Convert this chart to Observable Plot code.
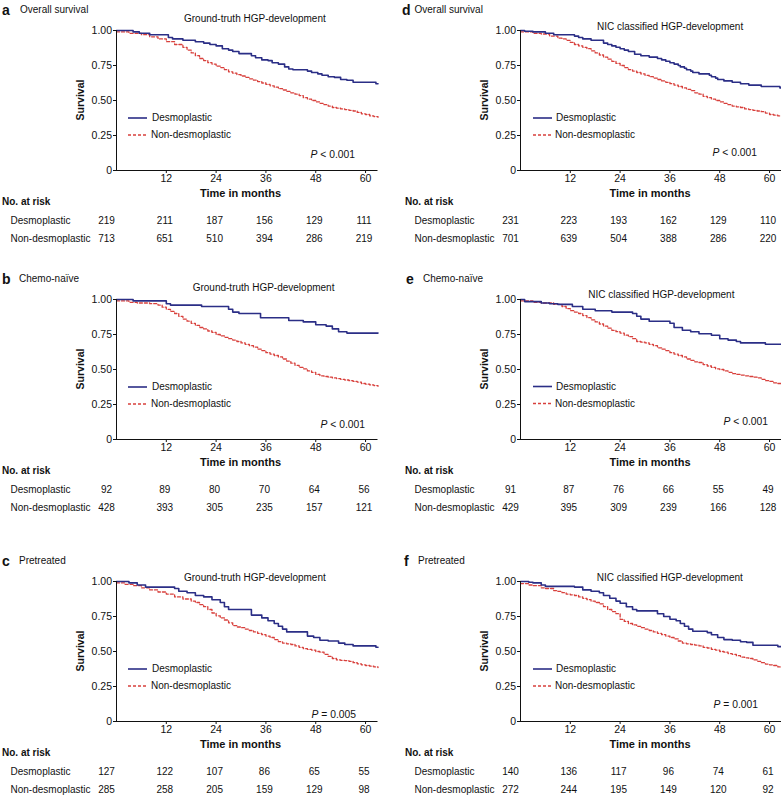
<!DOCTYPE html>
<html><head><meta charset="utf-8">
<script src="https://cdn.jsdelivr.net/npm/d3@7"></script>
<script src="https://cdn.jsdelivr.net/npm/@observablehq/plot@0.6"></script>
<style>
body{margin:0;background:#fff;}
#root{position:relative;width:781px;height:798px;overflow:hidden;font-family:"Liberation Sans",Arial,sans-serif;color:#111;background:#fff;}
.abs{position:absolute;white-space:nowrap;line-height:1;}
#root svg{position:absolute;}
</style></head><body><div id="root"></div>
<script>
// ---------- DATA ----------
const riskTimes = [0, 12, 24, 36, 48, 60];
const xTicks = [12, 24, 36, 48, 60];
const yTicks = [0, 0.25, 0.5, 0.75, 1];
const groups = ["Desmoplastic", "Non-desmoplastic"];

const panelLetters = ["a", "b", "c", "d", "e", "f"];
const panelSubtitles = ["Overall survival", "Chemo-naïve", "Pretreated", "Overall survival", "Chemo-naïve", "Pretreated"];
const panelTitles = ["Ground-truth HGP-development", "Ground-truth HGP-development", "Ground-truth HGP-development",
  "NIC classified HGP-development", "NIC classified HGP-development", "NIC classified HGP-development"];
const pValues = ["< 0.001", "< 0.001", "= 0.005", "< 0.001", "< 0.001", "= 0.001"];

// survival curves: [month, survival]
const aDesmo = [[0,1],[4,0.99],[5.5,0.98],[8,0.97],[12.5,0.95],[13.5,0.94],[16,0.93],[19,0.92],[21,0.91],[22.5,0.90],[24,0.89],[25.5,0.87],[27,0.86],[28,0.85],[29.5,0.835],[32.5,0.82],[33.5,0.805],[35,0.79],[36.5,0.785],[37.5,0.77],[39,0.76],[40.5,0.74],[41.5,0.725],[42.5,0.72],[46,0.71],[47,0.70],[48.5,0.69],[49.5,0.68],[51,0.67],[52.5,0.665],[54,0.65],[55.5,0.645],[57,0.63],[62.5,0.62],[63,0.62]];
const aNon = [[0,0.99],[3,0.98],[6,0.97],[8,0.955],[10,0.94],[12,0.92],[14,0.90],[16,0.88],[17,0.86],[18,0.84],[19,0.82],[20,0.80],[21,0.785],[22,0.77],[23,0.76],[24,0.745],[25,0.735],[26,0.72],[27,0.705],[28,0.695],[29,0.685],[30,0.675],[31,0.665],[32,0.655],[33,0.645],[34,0.635],[35,0.625],[36,0.615],[37,0.605],[38,0.595],[39,0.585],[40,0.575],[41,0.565],[42,0.555],[43,0.545],[44,0.535],[45,0.52],[46,0.51],[47,0.50],[48,0.49],[49,0.48],[50,0.47],[51,0.46],[52,0.45],[53,0.445],[54,0.44],[55,0.435],[56,0.43],[57,0.425],[58,0.415],[59,0.405],[60,0.40],[61,0.39],[62,0.385],[63,0.38]];
const bDesmo = [[0,1],[4,0.99],[12,0.97],[13,0.96],[20.5,0.95],[27,0.93],[28,0.91],[29.5,0.90],[34.7,0.87],[41.5,0.85],[45,0.84],[48,0.82],[50.5,0.81],[52,0.79],[53.5,0.77],[55.5,0.76],[63,0.76]];
const bNon = [[0,0.99],[3,0.98],[5,0.975],[8,0.97],[10,0.96],[11,0.945],[12,0.93],[13,0.915],[14,0.90],[15,0.88],[16,0.86],[17,0.845],[18,0.83],[19,0.815],[20,0.80],[21,0.79],[22,0.775],[23,0.765],[24,0.75],[25,0.74],[26,0.73],[27,0.72],[28,0.71],[29,0.70],[30,0.69],[31,0.68],[32,0.67],[33,0.66],[34,0.645],[35,0.635],[36,0.62],[37,0.61],[38,0.60],[39,0.59],[40,0.575],[41,0.56],[42,0.545],[43,0.53],[44,0.515],[45,0.505],[46,0.49],[47,0.48],[48,0.465],[49,0.455],[50,0.45],[51,0.445],[52,0.44],[53,0.435],[54,0.43],[55,0.425],[56,0.42],[57,0.415],[58,0.41],[59,0.40],[60,0.395],[61,0.39],[62,0.385],[63,0.38]];
const cDesmo = [[0,1],[3,0.99],[5,0.975],[7,0.96],[14,0.95],[15,0.93],[17,0.92],[19,0.90],[21,0.89],[23,0.87],[25,0.85],[26,0.82],[27,0.80],[32.5,0.76],[35,0.74],[36.5,0.72],[38,0.70],[39,0.68],[40,0.66],[41,0.64],[46,0.61],[47.5,0.60],[49,0.58],[51,0.575],[53.5,0.56],[55,0.55],[57,0.54],[62.5,0.53],[63,0.53]];
const cNon = [[0,0.99],[2,0.98],[4,0.97],[6,0.955],[8,0.94],[10,0.925],[12,0.91],[14,0.89],[16,0.875],[18,0.86],[19,0.85],[20,0.835],[21,0.82],[22,0.80],[23,0.775],[24,0.755],[25,0.74],[26,0.725],[27,0.705],[28,0.685],[29,0.675],[30,0.67],[31,0.66],[32,0.65],[33,0.64],[34,0.63],[35,0.62],[36,0.61],[37,0.60],[38,0.585],[39,0.57],[40,0.56],[41,0.555],[42,0.55],[43,0.54],[44,0.53],[45,0.52],[46,0.515],[47,0.51],[48,0.50],[49,0.495],[50,0.48],[51,0.465],[52,0.45],[53,0.44],[54,0.437],[55,0.435],[56,0.43],[57,0.42],[58,0.412],[59,0.405],[60,0.40],[61,0.395],[62,0.39],[63,0.385]];
const dDesmo = [[0,1],[1,0.995],[3,0.99],[6,0.98],[8,0.97],[13,0.96],[14,0.95],[15,0.94],[17,0.93],[20,0.91],[21,0.90],[22,0.89],[23,0.88],[24,0.87],[25,0.86],[26,0.85],[27.5,0.83],[29,0.82],[31,0.81],[33,0.80],[34,0.79],[35,0.78],[36,0.77],[37,0.76],[38,0.75],[38.5,0.74],[39.5,0.73],[40,0.72],[41,0.71],[41.5,0.70],[43,0.69],[45.5,0.68],[46,0.67],[47,0.66],[47.5,0.65],[49,0.64],[51,0.63],[53,0.62],[55,0.61],[58,0.60],[62.5,0.59],[63,0.59]];
const dNon = [[0,0.99],[3,0.98],[5,0.975],[7,0.96],[9,0.945],[10,0.94],[11,0.93],[12,0.915],[13,0.90],[14,0.89],[15,0.88],[16,0.87],[17,0.855],[18,0.84],[19,0.825],[20,0.81],[21,0.795],[22,0.78],[23,0.765],[24,0.75],[25,0.735],[26,0.72],[27,0.71],[28,0.70],[29,0.69],[30,0.68],[31,0.67],[32,0.66],[33,0.65],[34,0.64],[35,0.63],[36,0.62],[37,0.61],[38,0.60],[39,0.59],[40,0.58],[41,0.57],[42,0.555],[43,0.545],[44,0.53],[45,0.52],[46,0.51],[47,0.50],[48,0.49],[49,0.48],[50,0.47],[51,0.46],[52,0.455],[53,0.45],[54,0.44],[55,0.435],[56,0.43],[57,0.425],[58,0.42],[59,0.41],[60,0.40],[61,0.395],[62,0.39],[63,0.385]];
const eDesmo = [[0,1],[1,0.985],[5,0.975],[7,0.97],[9,0.965],[12.5,0.95],[15,0.93],[18,0.92],[22,0.91],[27,0.90],[28,0.88],[29,0.86],[31,0.845],[36,0.83],[37,0.80],[39,0.78],[41,0.77],[43,0.755],[46,0.745],[48,0.72],[50,0.71],[52,0.70],[53,0.69],[59,0.68],[63,0.68]];
const eNon = [[0,0.99],[3,0.98],[5,0.975],[8,0.965],[10,0.95],[11,0.935],[12,0.92],[13,0.91],[14,0.90],[15,0.885],[16,0.87],[17,0.855],[18,0.84],[19,0.825],[20,0.81],[21,0.795],[22,0.78],[23,0.77],[24,0.76],[25,0.745],[26,0.735],[27,0.72],[28,0.70],[29,0.695],[30,0.69],[31,0.68],[32,0.67],[33,0.655],[34,0.645],[35,0.635],[36,0.62],[37,0.61],[38,0.60],[39,0.59],[40,0.575],[41,0.565],[42,0.555],[43,0.55],[44,0.535],[45,0.525],[46,0.515],[47,0.505],[48,0.50],[49,0.49],[50,0.48],[51,0.47],[52,0.465],[53,0.46],[54,0.455],[55,0.45],[56,0.445],[57,0.44],[58,0.43],[59,0.42],[60,0.415],[61,0.405],[62,0.40],[63,0.395]];
const fDesmo = [[0,1],[2,0.995],[3,0.99],[5,0.975],[6,0.965],[13,0.96],[15,0.94],[17,0.93],[19,0.92],[20,0.90],[21.5,0.88],[23,0.86],[24,0.845],[25.5,0.82],[27,0.80],[28,0.79],[33,0.77],[34.5,0.75],[36,0.73],[37.5,0.72],[38.5,0.70],[39.5,0.68],[40.5,0.66],[41.5,0.645],[45,0.635],[46,0.62],[47.5,0.60],[49,0.585],[51,0.58],[53,0.57],[54.5,0.565],[56,0.545],[62,0.535],[63,0.535]];
const fNon = [[0,0.985],[2,0.975],[3,0.97],[5,0.955],[6,0.95],[8,0.935],[9,0.93],[10,0.92],[11,0.91],[12,0.905],[13,0.90],[14,0.89],[15,0.88],[16,0.87],[17,0.86],[18,0.85],[19,0.84],[20,0.82],[21,0.80],[22,0.785],[23,0.77],[24,0.73],[25,0.715],[26,0.70],[27,0.69],[28,0.68],[29,0.67],[30,0.66],[31,0.65],[32,0.64],[33,0.63],[34,0.62],[35,0.61],[36,0.60],[37,0.59],[38,0.575],[39,0.56],[40,0.555],[41,0.55],[42,0.545],[43,0.54],[44,0.53],[45,0.525],[46,0.515],[47,0.51],[48,0.50],[49,0.495],[50,0.485],[51,0.48],[52,0.47],[53,0.46],[54,0.455],[55,0.45],[56,0.44],[57,0.43],[58,0.42],[59,0.41],[60,0.405],[61,0.40],[62,0.39],[63,0.38]];

// numbers at risk
const aRiskDesmo = [219, 211, 187, 156, 129, 111];
const aRiskNon   = [713, 651, 510, 394, 286, 219];
const bRiskDesmo = [92, 89, 80, 70, 64, 56];
const bRiskNon   = [428, 393, 305, 235, 157, 121];
const cRiskDesmo = [127, 122, 107, 86, 65, 55];
const cRiskNon   = [285, 258, 205, 159, 129, 98];
const dRiskDesmo = [231, 223, 193, 162, 129, 110];
const dRiskNon   = [701, 639, 504, 388, 286, 220];
const eRiskDesmo = [91, 87, 76, 66, 55, 49];
const eRiskNon   = [429, 395, 309, 239, 166, 128];
const fRiskDesmo = [140, 136, 117, 96, 74, 61];
const fRiskNon   = [272, 244, 195, 149, 120, 92];

const curves = [[aDesmo, aNon], [bDesmo, bNon], [cDesmo, cNon], [dDesmo, dNon], [eDesmo, eNon], [fDesmo, fNon]];
const risks = [[aRiskDesmo, aRiskNon], [bRiskDesmo, bRiskNon], [cRiskDesmo, cRiskNon], [dRiskDesmo, dRiskNon], [eRiskDesmo, eRiskNon], [fRiskDesmo, fRiskNon]];

// ---------- LAYOUT (positions only) ----------
const FONT = '"Liberation Sans", Arial, sans-serif';
const BLUE = "#2b2e86", RED = "#d8403c";
const W = 379, ML = 116, MR = 1.5, MT = 10, PH = 140;
const colLeft = [0, 403.5];
const col = {
  0: {survX: 80, timeX: 240.5, noX: 2, rowX: 10, legLine: 128, legText: 152},
  1: {survX: 484, timeX: 650, noX: 405, rowX: 413.5, legLine: 533, legText: 556}
};
const layout = [
  {c: 0, y1: 30,    letterX: 2,     subX: 20,  titleX: 184,   titleY: 19.3,  pEnd: 355, pY: 155},
  {c: 0, y1: 299,   letterX: 2,     subX: 19,  titleX: 192.7, titleY: 288.3, pEnd: 365, pY: 425},
  {c: 0, y1: 581,   letterX: 2,     subX: 19,  titleX: 184,   titleY: 577.7, pEnd: 356, pY: 715},
  {c: 1, y1: 30,    letterX: 402,   subX: 414.5, titleX: 597, titleY: 27,    pEnd: 757, pY: 153.3},
  {c: 1, y1: 298.5, letterX: 406,   subX: 423, titleX: 588.3, titleY: 295,   pEnd: 768, pY: 421.7},
  {c: 1, y1: 581,   letterX: 404,   subX: 418, titleX: 596.7, titleY: 577.7, pEnd: 758, pY: 705}
];

const root = document.getElementById("root");
function label(html, x, y, opts = {}) {
  const d = document.createElement("div");
  d.className = "abs";
  d.innerHTML = html;
  d.style.left = x + "px";
  d.style.top = y + "px";
  d.style.fontSize = (opts.size || 10) + "px";
  if (opts.bold) d.style.fontWeight = "bold";
  const ax = opts.anchor === "middle" ? "-50%" : opts.anchor === "end" ? "-100%" : "0";
  d.style.transform = `translate(${ax},-50%)` + (opts.rotate ? ` rotate(${opts.rotate}deg)` : "");
  root.appendChild(d);
  return d;
}

function curvePlot(desmo, non) {
  return Plot.plot({
    width: W, height: MT + PH + 10,
    marginLeft: ML, marginRight: MR, marginTop: MT, marginBottom: 10,
    style: {fontFamily: FONT, fontSize: "10.5px", color: "#111", background: "transparent", overflow: "visible"},
    x: {domain: [0, 63], label: null},
    y: {domain: [0, 1], label: null},
    marks: [
      Plot.line(non, {x: d => d[0], y: d => d[1], curve: "step-after", stroke: RED, strokeWidth: 1.3, strokeDasharray: "3,2"}),
      Plot.line(desmo, {x: d => d[0], y: d => d[1], curve: "step-after", stroke: BLUE, strokeWidth: 1.6}),
      Plot.axisX({ticks: xTicks, tickSize: 3, tickPadding: 1, label: null, tickFormat: d => String(d)}),
      Plot.axisY({ticks: yTicks, tickSize: 3, tickPadding: 1.5, label: null, tickFormat: d => d === 0 ? "0" : d.toFixed(2)}),
      Plot.ruleX([0], {stroke: "#111"}),
      Plot.ruleY([0], {stroke: "#111"})
    ]
  });
}

function riskPlot(dVals, nVals, rowX) {
  const rows = [];
  riskTimes.forEach((t, i) => {
    rows.push({t, g: groups[0], n: dVals[i]});
    rows.push({t, g: groups[1], n: nVals[i]});
  });
  return Plot.plot({
    width: W, height: 40, marginLeft: ML, marginRight: MR, marginTop: 0, marginBottom: 0,
    style: {fontFamily: FONT, fontSize: "10px", color: "#111", background: "transparent", overflow: "visible"},
    x: {domain: [0, 63], axis: null},
    y: {type: "point", domain: groups, range: [9, 27], padding: 0, axis: null},
    marks: [
      Plot.text(rows.filter(r => r.t > 0), {x: "t", y: "g", text: "n", dx: -1.5, fill: "#111"}),
      Plot.text(rows.filter(r => r.t === 0), {x: "t", y: "g", text: "n", dx: -10, fill: "#111"}),
      Plot.text(groups, {y: d => d, text: d => d, frameAnchor: "left", textAnchor: "start", dx: rowX - ML, fill: "#111"})
    ]
  });
}

const overlay = d3.create("svg").attr("width", 781).attr("height", 798)
  .style("left", "0px").style("top", "0px").style("pointer-events", "none");

layout.forEach((L, i) => {
  const C = col[L.c];
  const left = colLeft[L.c];
  const y0 = L.y1 + PH;
  const p = curvePlot(curves[i][0], curves[i][1]);
  p.style.left = left + "px";
  p.style.top = (L.y1 - MT) + "px";
  root.appendChild(p);
  const r = riskPlot(risks[i][0], risks[i][1], C.rowX - left);
  r.style.left = left + "px";
  r.style.top = (y0 + 41) + "px";
  root.appendChild(r);

  // panel header
  label(panelLetters[i], L.letterX, L.y1 - 20, {size: 14, bold: true});
  label(panelSubtitles[i], L.subX, L.y1 - 20, {size: 10});
  label(panelTitles[i], L.titleX, L.titleY, {size: 10});
  // axis titles
  label("Survival", C.survX, L.y1 + 70, {size: 10.5, bold: true, anchor: "middle", rotate: -90});
  label("Time in months", C.timeX, y0 + 23, {size: 11, bold: true, anchor: "middle"});
  label("No. at risk", C.noX, y0 + 32, {size: 10, bold: true});
  // p value
  label(`<i>P</i> ${pValues[i]}`, L.pEnd, L.pY, {size: 10.3, anchor: "end"});
  // legend
  const ly = [L.y1 + 88, L.y1 + 105];
  overlay.append("line").attr("x1", C.legLine).attr("x2", C.legLine + 19).attr("y1", ly[0]).attr("y2", ly[0])
    .attr("stroke", BLUE).attr("stroke-width", 1.6);
  overlay.append("line").attr("x1", C.legLine).attr("x2", C.legLine + 20).attr("y1", ly[1]).attr("y2", ly[1])
    .attr("stroke", RED).attr("stroke-width", 1.3).attr("stroke-dasharray", "3,2");
  label(groups[0], C.legText, ly[0], {size: 10});
  label(groups[1], C.legText - 1, ly[1], {size: 10});
});
root.appendChild(overlay.node());
</script></body></html>
